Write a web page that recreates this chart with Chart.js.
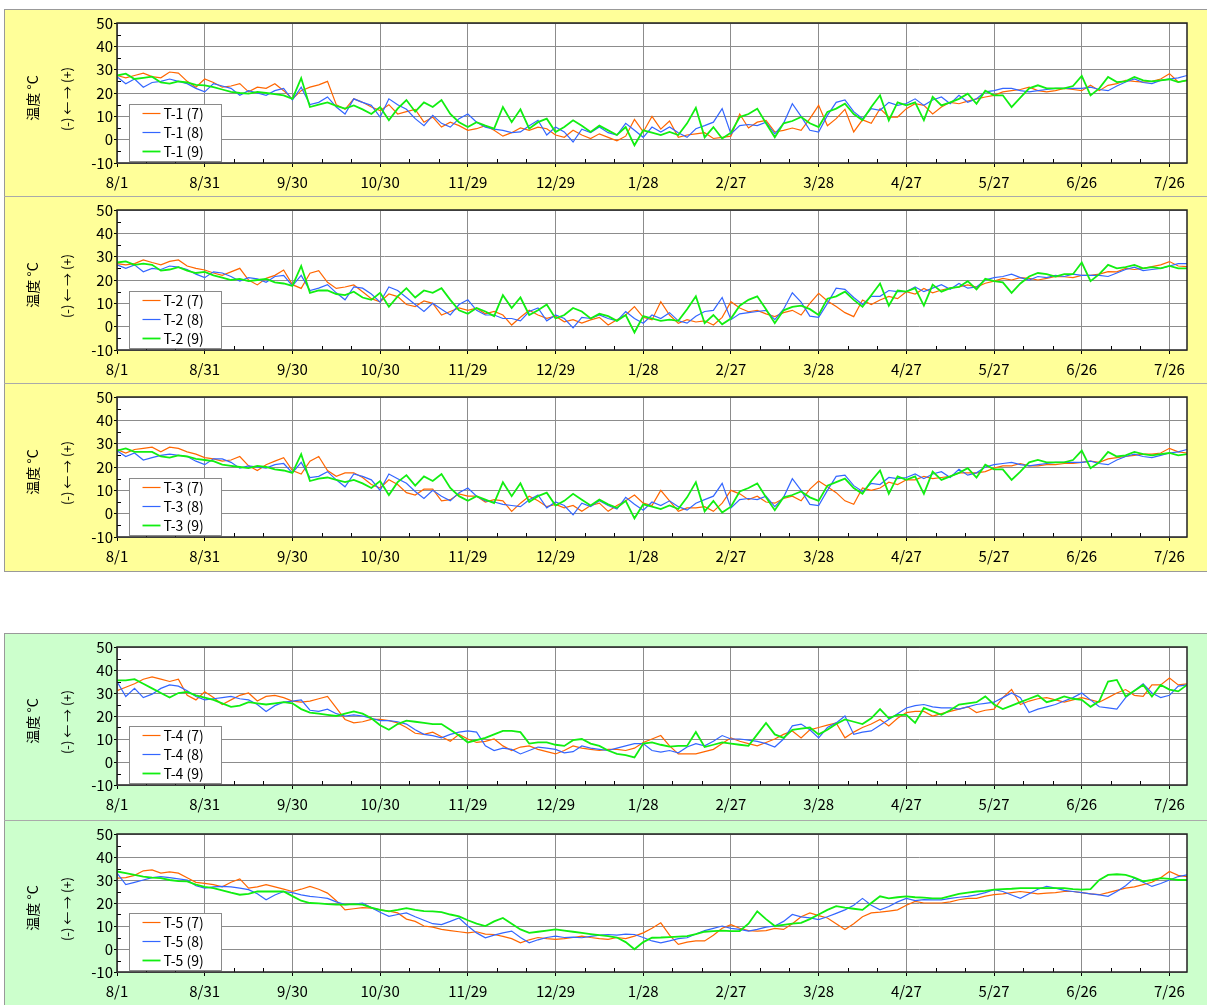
<!DOCTYPE html>
<html lang="ja">
<head>
<meta charset="utf-8">
<title>温度</title>
<script src="https://cdn.jsdelivr.net/npm/chart.js@4.4.1/dist/chart.umd.min.js"></script>
<style>
  body { margin: 0; width: 1207px; height: 1005px; background: #fff; overflow: hidden; position: relative;
         font-family: "Noto Sans CJK JP", sans-serif; }
  .group { position: absolute; left: 4px; width: 1210px; border: 1px solid #999; box-sizing: border-box; }
  .yellow { top: 9px; height: 563px; background: #FFFF99; }
  .green { top: 633px; height: 390px; background: #CCFFCC; }
  .sep { position: absolute; left: 4px; width: 1210px; height: 0; border-top: 1px solid #aaa; }
  canvas { position: absolute; left: 0; }
  .ttl { position: absolute; transform: translate(-50%, -50%) rotate(-90deg); white-space: pre; color: #000; }
</style>
</head>
<body>
<div class="group yellow"></div>
<div class="group green"></div>
<div class="sep" style="top:196px"></div>
<div class="sep" style="top:383px"></div>
<div class="sep" style="top:820px"></div>
<div id="charts"></div>

<script>
// ***************************** DATOS *****************************
// x軸の目盛 (8/1 からの日数) とラベル
const tickDays = [0, 30, 60, 90, 120, 150, 180, 210, 240, 270, 300, 330, 360];
const tickLabels = ["8/1", "8/31", "9/30", "10/30", "11/29", "12/29", "1/28", "2/27", "3/28", "4/27", "5/27", "6/26", "7/26"];
const stepDays = 3; // 値は3日おきに読み取り

// T-1
const t1_7 = [27.5,26.5,27.5,28.5,27,26.5,29,28.5,25,22.5,
  26,24.5,22.5,23,24,20.5,22.5,22,24,21,
  17.5,21,22.5,23.5,25,15,13,17.5,16,14,
  12.5,15,11,12,13,7.5,9.7,5.4,7.5,6,
  4,4.7,6,4,1.5,3,5,4,5.4,4.7,
  2,1,4,2,0.5,2.5,1,-0.5,1.5,8.7,
  3.3,10,4.5,8,1,2,2.5,3,0.5,1,
  1.5,11,5,7.5,8.3,3.3,4,5,4,9,
  14.7,6,9,13,3.3,8.5,7,13.3,9.7,9.7,
  13.3,15.4,14.7,11,14,16,15.4,16.5,17.5,18.3,
  19,20.5,21,21.5,22.5,21,20.5,21,22,21.5,
  21,23.3,21,23.3,24,25.4,25,24.7,25,26,
  28.3,24.7,25.4];
const t1_8 = [27,24,26,22.5,24.5,25,26,25,24,22,
  20.5,24,23,22,19,21,20,19,21,22,
  17,22.5,15,16,18.3,14,11,17.5,16,14.7,
  9.7,17.5,15,13,9,6,10.4,7,5.4,9,
  11,7.5,5.4,4.5,4,3,3.3,6,8.3,2,
  5.4,3.3,-1,4.5,3,5.4,3,2,7,4,
  1,5.4,3.3,5.4,3,1,4.7,6,7.5,13.3,
  2.5,6,6.5,6,7.5,2.5,7,15.4,10,4,
  3.3,10.4,16,17,12,9,13.3,12.6,16,14.7,
  15.5,17.5,14.7,17,18.3,15.4,19,16,17.5,20.5,
  21,22,22,21,20.5,21,21.5,22,22,22,
  22,22.5,21.5,21,23,24.7,26,24.5,24,25.4,
  26,26.5,27.5];
const t1_9 = [27.5,28.3,26,26.5,27,24.5,24,25,24.5,23.5,
  23.3,22.5,21.5,20.5,20,19.7,20.5,20,19.5,19,
  17.5,26.4,14,15,16,14.5,13.3,14.7,13,11,
  14,8.3,13.3,17,12,16,14,17,11,7.5,
  5.4,7.5,6,4.7,14,7.5,13,4.7,7.5,9,
  3.3,5.4,8.3,6,3.3,6,4,2,5.4,-2.4,
  4,3,2,3.3,2,7,13.7,1,5.4,0.5,
  3,9.7,11,13.3,7,1,7,8,9.7,7,
  5.4,11.9,13.3,15.4,11,8.3,14,19,8.3,16,
  14.7,16,8.3,18.3,14.7,16,17.5,19.7,15.4,21,
  19,19,14,18,22,23.3,22,22,22,23,
  27.3,19,22,26.9,24.7,25,26.9,25.4,25,25.4,
  25.9,24.7,25.4];

// T-2
const t2_7 = [27,26.5,27,28.6,27.5,26.5,28,28.6,26,25,
  24.3,23,22,23.5,25,20,17.9,20.7,22,24.3,
  18,16.4,22.9,24,19,16.4,17,17.9,15,12,
  10.7,14,12.9,9.5,8.6,11,10,5,6.5,8,
  7,7.9,5.5,6.5,5,0.7,4,7,5,3.6,
  4.5,2.1,3,1.5,2.9,4,0.7,3,5,8.6,
  4,2.9,10.7,5,1.4,3,2,2.5,0.7,4,
  10.7,8,6.4,7,5.5,4.3,6,7,5,10,
  14.3,11,8.6,6,4.3,11.4,9.5,11.4,13,12,
  15,14,16.4,14.5,15.7,16.5,17,17.9,17,18.6,
  19.5,20.7,20,21,20.7,20,20.7,21.5,21.4,21,
  22,22,22.5,23.6,23.5,25,24.5,25,25.7,26.5,
  27.9,26,25.7];
const t2_8 = [26.5,25,26.5,23.5,25,24.5,26,25.5,24.5,22.5,
  21,23.5,23,21.5,19.5,21,20.5,19,21.5,22,
  17.5,22,15.5,16.5,18,14.5,11.5,17,16.5,14,
  10.5,17,15.5,12.5,9.5,6.5,10,7.5,5,9.5,
  11.5,7,5,5,3.5,3.5,2.5,6.5,8,2.5,
  5,3.5,-0.5,4,3.5,5,3.5,2.5,6.5,3.5,
  1.5,5,3.5,6,2.5,1.5,4.5,6.5,7,12.5,
  3,5.5,6,6.5,7,3,7.5,14.5,10.5,4.5,
  4,10,16.5,16,12.5,9.5,13,13,15.5,15,
  15,17,15,16.5,18,16,18.5,16.5,17,20,
  21,21.5,22.5,21,20,21.5,21,22,21.5,22.5,
  22,22,22,21.5,23,24.5,25.5,24,24.5,25,
  26,27,27];
const t2_9 = [27.5,28,26.5,27,26.5,24,24.5,25.5,24,23,
  23.5,22,21,20,20.5,19.5,20,20.5,19,18.5,
  17.5,26,14.5,15.5,15.5,14,13.5,15,12.5,11.5,
  14.5,8.5,13,16.5,12.5,15.5,14.5,16.5,11.5,7,
  5.5,8,6.5,4.5,13.5,8,12.5,5,7,9.5,
  3.5,5,8,6.5,3.5,5.5,4.5,2.5,5,-2.5,
  4.5,3.5,2.5,3,2.5,7.5,13,1.5,5,1,
  3.5,9,11.5,13,7.5,1.5,7,8.5,9,7.5,
  5,12,13,15,11.5,8.5,13.5,18.5,9,15.5,
  15,16.5,9,18,15,16.5,17,19.5,16,20.5,
  19.5,19,14.5,18.5,21.5,23,22.5,21.5,22.5,22.5,
  27.5,19.5,22.5,26.5,25,25.5,26.5,25,25.5,25,
  26,25,25];

// T-3
const t3_7 = [27.5,26,27.5,28,28.5,26.5,28.5,28,26.5,25.5,
  24,23.5,22.5,23,24.5,20.5,18.5,21,22.5,24,
  18.5,17,22.5,24.5,18.5,16,17.5,17.5,15.5,12.5,
  11,14.5,12.5,9,8,10.5,10.5,5.5,6,8.5,
  7.5,7.5,5,6,5.5,1,4.5,7.5,5.5,3,
  4,2.5,3.5,1,3.5,4.5,1,3.5,5.5,8,
  4.5,3.5,10,5.5,1,2.5,2.5,3,1,4.5,
  10,8.5,6,7.5,5,4.5,6.5,7.5,5.5,10.5,
  14,11.5,9,5.5,4,11,10,11,13.5,12.5,
  14.5,14.5,16,15,15.5,16,17.5,17.5,17.5,18,
  19.5,20.5,20.5,21.5,20.5,20.5,21,21,21.5,21.5,
  22,22.5,22,23.5,24,24.5,25,25.5,25.5,26,
  28,26.5,26];
const t3_8 = [27,24.5,26,23,24,25,25.5,25,24.5,22.5,
  21,23.5,23.5,22,19.5,20.5,20,19.5,21,21.5,
  17.5,22,15.5,16,18,14.5,11.5,17,16,14.5,
  10,17,15,13,9.5,6.5,10,7.5,5.5,9,
  11,7.5,5.5,5,4,3.5,3,6,8,2.5,
  5,3.5,-0.5,4.5,3,5.5,3.5,2,7,4,
  1.5,5,3.5,5.5,3,1.5,4.5,6,7.5,13,
  2.5,6,6.5,6,7.5,3,7,15,10,4,
  3.5,10,16,16.5,12,9.5,13,12.5,15.5,15,
  15.5,17,15,17,18,15.5,19,16.5,17.5,20,
  21,21.5,22,21,20.5,21,21.5,22,22,22,
  22,22.5,21.5,21,23,24.5,25.5,24.5,24,25,
  26,26.5,27.5];
const t3_9 = [27,28,26.5,26.5,26.5,24.5,24,25,24.5,23.5,
  23,22.5,21,20.5,20,19.5,20.5,20,19,18.5,
  17.5,25.5,14,15,15.5,14.5,13.5,14.5,13,11,
  14,8,13.5,16.5,12,16,14,17,11,7.5,
  5.5,7.5,6,4.5,13.5,7.5,13,5,7.5,9,
  3.5,5.5,8.5,6,3.5,6,4,2.5,5.5,-2,
  4,3,2,3.5,2,7,13.5,1,5.5,0.5,
  3,9.5,11,13,7,1.5,7,8,9.5,7,
  5.5,12,13.5,15,11,8.5,14,18.5,8.5,16,
  14.5,16,8.5,18,14.5,16,17.5,19.5,15.5,21,
  19,19,14.5,18,22,23,22,22,22,23,
  27,19.5,22,26.5,24.5,25,26.5,25.5,25,25.5,
  26,25,25.5];

// T-4
const t4_7 = [31,32.5,34,36,37,36,35,36,29,27,
  30.5,28,25,27,29,30,26.5,28.5,29,28,
  26.5,26,26.5,27.5,28.5,23.5,18.5,17,17.5,18.5,
  18.5,18,17,15,12.5,12,13,11,9,12,
  10,8.5,9,10,7,5,6.5,7,5.5,4.5,
  3.5,5,7,6,5.5,5,5.5,5.5,5,6,
  8.5,10,11.5,7,3.5,3.5,3.5,4.5,5.5,8,
  10.5,9,8,7,8.5,10,12,13.5,10.5,14,
  15,16,17,10.5,13,15,16.5,18.5,15.7,19,
  21.5,22,22,20,21,22,23,24,21.5,22.5,
  23,28,31.5,25,26.5,27.5,28,27,26,27,
  28,27,26,28,30,31.5,29,28.5,33.5,33.5,
  36.5,33.5,34];
const t4_8 = [35,28.5,32,28,29.5,32,33.5,33,31,28.5,
  27,27.5,28,28.5,27.5,27,25,22,24.5,26,
  26.5,27,22.5,22,23,21,20,20.5,20,19,
  18,18,17.5,16.5,14,12,11.5,10.5,12,13,
  13.5,13,7,5,6,5.5,3.5,5,6.5,6,
  5.5,4,4.5,7,6,5.5,5,6,7,8,
  8,5,4.3,5,4,6.5,8,7,9,11.5,
  10,10,9.5,9,8,6.5,10,15.7,16.5,14,
  10.5,15,17,20,12,13,13.5,16,18.5,21,
  23.5,24.5,25,24,23.5,23.5,23,24,25,25.5,
  26,28,30,28,21.5,23,24,25,26.5,28,
  30,27,24,23.5,23,28,31,34,30,28,
  29,33,33.5];
const t4_9 = [35.5,35.5,36,34,32,30,28,30,30.5,29,
  28,27,25.5,24,24.5,26,25.5,25,25.5,26,
  25.5,23,21.5,21,20.5,20,21,22,21,19,
  16,14,16.5,18,17.5,17,16.5,16.5,14,11.5,
  8.5,9.5,10.5,12,13.5,13.5,13,8,8.5,8.5,
  7.5,7,9.5,10,8,7,5,3.5,3,2,
  8,8.5,7.5,6.7,7,7,13,6.5,7.5,8.5,
  8,7.5,7,12,17,12,10.5,14,14.5,15,
  12,14,16.5,18.5,17.5,16.5,19,23,19,20.5,
  20.5,17,23.5,22,20.5,22.5,25,25.5,26,28.5,
  25,23,24.5,26,27.5,29,26,27,28.5,27.5,
  27,24,26.5,35,35.7,28.5,31,33.5,28.5,33.5,
  31.5,30.7,33.5];

// T-5
const t5_7 = [30.8,31,32,34,34.4,33,33.5,33,31,29,
  28.5,28,27,29,30.5,26.5,27,28,27,26,
  25,26,27.2,26,24.3,21,17,17.5,18,17.8,
  17,16.5,15.7,13,12,10,9.5,8.5,8,7.5,
  7,7.5,6.5,6.3,5.5,4.5,2.7,4,5,4.5,
  4.2,4.5,5,5.6,5,4.5,4.2,5,4.5,5.6,
  7,9,11.4,6,2,3,3.5,3.5,6,9,
  10.6,9,8,7.8,8,9,8.5,11,14,15.7,
  14.5,13.5,11,8.5,11,14,15.7,16,16.5,17,
  19,20.7,20,20,20,20.5,21.4,22,22,23,
  23.6,24,24.5,25,24.5,24,24.3,24.5,25,25,
  24.5,24,23.6,24.5,25.5,26.5,27,28,29,31,
  33.7,32,31.5];
const t5_8 = [33,28,29,30,31,31.5,31,30.5,30,27.5,
  26.5,27,27.2,27,26.5,25.8,24,21.4,23.5,25,
  24.5,23.5,22.9,22.5,22,20.5,19.3,19.5,20,18,
  16,14.2,15,15.7,14,12.5,11,10.6,12,13.5,
  10,7,4.9,6,7,7.8,5,2.7,4,5,
  5.6,5,5.2,4.9,5.5,6,6.3,6,6.5,6.3,
  5,3.5,2.7,3.5,4.5,4.9,6.5,8,9,10,
  9,8.5,7.8,8.5,9.5,10,12,15,14,13.5,
  12.8,14,15.5,17,19,22,19,17,18.5,20.5,
  22,21,21.5,21.4,21.4,22,22.5,22.9,23.5,24.5,
  25.8,25,23.5,22,24,26,27.2,26.5,25.5,25,
  24.5,24,23.5,22.9,25,27.5,30.8,29,27.2,28.5,
  30,31.5,32.2];
const t5_9 = [33.7,33,32.2,31.5,31,30.8,30,29.5,29.4,28,
  27,26.5,25.5,24.5,23.6,24,25,25,25,25,
  23,21,20,19.8,19.5,19.3,19.3,19.5,19.3,18,
  17,16.4,17,17.8,17,16.5,16.4,16,15,14.2,
  12.5,11,10,12,13.5,11,8.5,7,7.5,8,
  8.5,8,7.5,7,6.5,6,5.6,5,3,-0.1,
  3,4.9,5,5.2,5.4,5.6,6.5,7.5,7.8,8,
  7.8,7.8,11,16.4,13,10,10.5,11,11.4,13,
  15,17,18.6,18,17.5,17,20,22.9,22,22.5,
  22.9,22.5,22.3,22,22,23,24,24.5,25,25.3,
  25.8,26,26.2,26.5,26.5,26.5,26.5,26.5,26.5,26,
  25.8,26,30,32.2,32.5,32.2,31,29.4,30,30.8,
  30.5,30,30];

const seriesNames = ["(7)", "(8)", "(9)"];
const seriesColors = ["#FF6600", "#3366FF", "#11EE11"];

// ************************* PANELES *************************
const panels = [
  { name: "T-1", data: [t1_7, t1_8, t1_9], top: 9,   plotH: 140 },
  { name: "T-2", data: [t2_7, t2_8, t2_9], top: 196, plotH: 140 },
  { name: "T-3", data: [t3_7, t3_8, t3_9], top: 383, plotH: 140 },
  { name: "T-4", data: [t4_7, t4_8, t4_9], top: 633, plotH: 138 },
  { name: "T-5", data: [t5_7, t5_8, t5_9], top: 820, plotH: 138 },
];

const FONT = '"Noto Sans CJK JP", sans-serif';

/**
 * Fondo blanco, marcas menores, marco y leyenda dentro del área
 */
const panelPlugin = {
  id: "panelPlugin",
  beforeDraw(chart) {
    const a = chart.chartArea;
    const ctx = chart.ctx;
    ctx.save();
    ctx.fillStyle = "#fff";
    ctx.fillRect(a.left, a.top, a.right - a.left, a.bottom - a.top);
    ctx.restore();
  },
  afterDraw(chart) {
    const a = chart.chartArea;
    const ctx = chart.ctx;
    const xs = chart.scales.x;
    const ys = chart.scales.y;
    ctx.save();
    // marcas menores
    ctx.strokeStyle = "#000";
    ctx.lineWidth = 1;
    ctx.beginPath();
    for (let d = 10; d < 366; d += 10) {
      if (d % 30 === 0) continue;
      const px = Math.round(xs.getPixelForValue(d)) + 0.5;
      ctx.moveTo(px, a.bottom);
      ctx.lineTo(px, a.bottom - 4);
    }
    for (let v = -5; v < 50; v += 10) {
      const py = Math.round(ys.getPixelForValue(v)) + 0.5;
      ctx.moveTo(a.left, py);
      ctx.lineTo(a.left + 4, py);
    }
    ctx.stroke();
    // marco
    ctx.strokeStyle = "#222";
    ctx.lineWidth = 1.5;
    ctx.strokeRect(a.left, a.top, a.right - a.left, a.bottom - a.top);

    // leyenda
    const bx = Math.round(a.left + 12) + 0.5;
    const bw = 92, bh = 57;
    const by = Math.round(a.bottom - 2 - bh) + 0.5;
    ctx.fillStyle = "#fff";
    ctx.fillRect(bx, by, bw, bh);
    ctx.strokeStyle = "#8a8a8a";
    ctx.lineWidth = 1;
    ctx.strokeRect(bx, by, bw, bh);
    ctx.font = "14px " + FONT;
    ctx.textBaseline = "middle";
    ctx.textAlign = "left";
    chart.data.datasets.forEach(function (ds, i) {
      const ry = by + 9 + i * 19;
      ctx.strokeStyle = ds.borderColor;
      ctx.lineWidth = ds.borderWidth;
      ctx.beginPath();
      ctx.moveTo(bx + 13, ry);
      ctx.lineTo(bx + 31, ry);
      ctx.stroke();
      ctx.fillStyle = "#000";
      ctx.fillText(ds.label, bx + 34, ry);
    });
    ctx.restore();
  },
};

function crearPanel(p) {
  const cont = document.getElementById("charts");
  const canvas = document.createElement("canvas");
  canvas.width = 1207;
  canvas.height = 187;
  canvas.style.top = p.top + "px";
  cont.appendChild(canvas);

  // títulos del eje Y (texto girado)
  const t1 = document.createElement("div");
  t1.className = "ttl";
  t1.style.left = "32px";
  t1.style.top = (p.top + 14 + p.plotH / 2 + 5) + "px";
  t1.style.fontSize = "14px";
  t1.textContent = "温度 °C";
  document.body.appendChild(t1);
  const t2 = document.createElement("div");
  t2.className = "ttl";
  t2.style.left = "66px";
  t2.style.top = (p.top + 14 + p.plotH / 2 + 6) + "px";
  t2.style.fontSize = "13px";
  t2.textContent = "(-) ← → (+)";
  document.body.appendChild(t2);

  const datasets = p.data.map(function (values, i) {
    return {
      label: p.name + " " + seriesNames[i],
      data: values.map(function (v, k) { return { x: k * stepDays, y: v }; }),
      borderColor: seriesColors[i],
      backgroundColor: seriesColors[i],
      borderWidth: i === 2 ? 1.8 : 1.2,
      pointRadius: 0,
      tension: 0,
      order: 3 - i,
    };
  });

  new Chart(canvas, {
    type: "line",
    data: { datasets: datasets },
    options: {
      responsive: false,
      animation: false,
      devicePixelRatio: 1,
      layout: { padding: { left: 0, right: 20, top: 14, bottom: 0 } },
      plugins: { legend: { display: false }, tooltip: { enabled: false } },
      scales: {
        x: {
          type: "linear",
          min: 0,
          max: 366,
          afterBuildTicks: function (s) { s.ticks = tickDays.map(function (d) { return { value: d }; }); },
          afterFit: function (s) { s.height = 187 - 14 - p.plotH; },
          border: { display: false },
          grid: { color: "#8c8c8c", lineWidth: 1, tickLength: 4, tickColor: "#000" },
          ticks: {
            autoSkip: false,
            maxRotation: 0,
            padding: 6,
            color: "#000",
            font: { family: FONT, size: 15 },
            callback: function (v, i) { return tickLabels[i]; },
          },
        },
        y: {
          min: -10,
          max: 50,
          afterFit: function (s) { s.width = 117; },
          border: { display: false },
          grid: { color: "#8c8c8c", lineWidth: 1, tickLength: 3, tickColor: "#000" },
          ticks: {
            stepSize: 10,
            padding: 1,
            color: "#000",
            font: { family: FONT, size: 15 },
          },
        },
      },
    },
    plugins: [panelPlugin],
  });
}

panels.forEach(crearPanel);
</script>
</body>
</html>
